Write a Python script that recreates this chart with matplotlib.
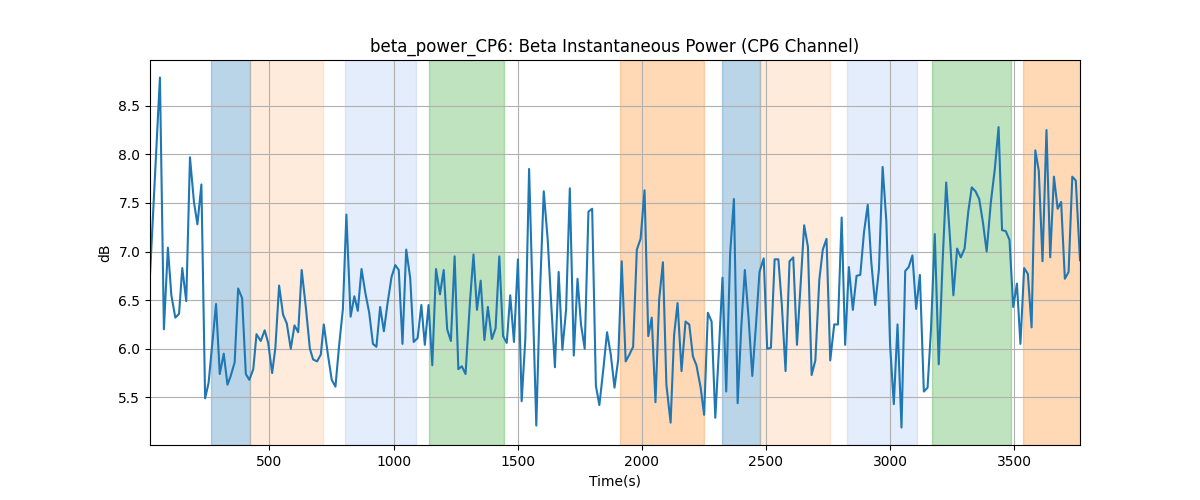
import matplotlib
matplotlib.use("Agg")
import matplotlib.pyplot as plt

time_s = [19, 59, 75, 91, 105, 121, 136, 149, 165, 180, 196, 210, 226, 241, 255, 285, 300, 316, 331, 344,
          360, 374, 390, 405, 419, 435, 448, 465, 481, 495, 511, 524, 539, 555, 570, 586, 601, 616, 630, 647,
          663, 676, 692, 707, 719, 735, 751, 766, 781, 796, 810, 827, 842, 856, 871, 886, 902, 917, 931, 946,
          961, 976, 992, 1007, 1021, 1036, 1051, 1067, 1081, 1097, 1112, 1126, 1141, 1156, 1171, 1187, 1202,
          1216, 1231, 1246, 1261, 1275, 1290, 1308, 1322, 1336, 1351, 1366, 1380, 1396, 1411, 1426, 1441, 1456,
          1470, 1485, 1501, 1516, 1531, 1546, 1560, 1575, 1590, 1605, 1621, 1636, 1650, 1665, 1680, 1695, 1710,
          1726, 1741, 1755, 1770, 1785, 1800, 1815, 1829, 1845, 1860, 1875, 1890, 1905, 1919, 1935, 1950, 1965,
          1980, 1995, 2011, 2026, 2040, 2055, 2070, 2085, 2099, 2116, 2130, 2144, 2160, 2176, 2191, 2206, 2220,
          2237, 2251, 2266, 2281, 2296, 2310, 2325, 2340, 2356, 2371, 2386, 2401, 2415, 2430, 2445, 2460, 2474,
          2491, 2505, 2520, 2535, 2550, 2564, 2579, 2595, 2610, 2625, 2639, 2654, 2669, 2684, 2699, 2715, 2729,
          2744, 2759, 2775, 2790, 2805, 2819, 2834, 2850, 2865, 2880, 2895, 2910, 2924, 2940, 2955, 2970, 2985,
          3000, 3015, 3030, 3046, 3061, 3075, 3090, 3105, 3120, 3136, 3151, 3165, 3180, 3196, 3211, 3226, 3241,
          3255, 3270, 3285, 3300, 3315, 3329, 3344, 3359, 3374, 3389, 3406, 3422, 3437, 3451, 3466, 3481, 3496,
          3511, 3525, 3540, 3555, 3570, 3585, 3599, 3614, 3630, 3645, 3660, 3675, 3689, 3704, 3719, 3734, 3748,
          3765]
power_db = [6.76, 8.79, 6.20, 7.04, 6.55, 6.32, 6.36, 6.83, 6.49, 7.97, 7.51, 7.28, 7.69, 5.49, 5.65, 6.46,
            5.74, 5.95, 5.63, 5.72, 5.86, 6.62, 6.52, 5.74, 5.68, 5.79, 6.15, 6.08, 6.19, 6.06, 5.75, 6.01,
            6.65, 6.35, 6.26, 6.00, 6.24, 6.17, 6.81, 6.42, 6.00, 5.89, 5.87, 5.94, 6.25, 5.95, 5.68, 5.61,
            6.04, 6.41, 7.38, 6.33, 6.54, 6.39, 6.82, 6.58, 6.37, 6.05, 6.02, 6.43, 6.18, 6.47, 6.74, 6.86,
            6.81, 6.05, 7.02, 6.73, 6.07, 6.11, 6.45, 6.04, 6.45, 5.83, 6.82, 6.56, 6.81, 6.20, 6.08, 6.95,
            5.79, 5.82, 5.74, 6.49, 6.97, 6.40, 6.70, 6.09, 6.43, 6.10, 6.21, 6.95, 6.13, 6.06, 6.55, 6.07,
            6.92, 5.46, 6.11, 7.85, 6.55, 5.21, 6.59, 7.62, 7.12, 6.42, 5.81, 6.79, 5.99, 6.40, 7.65, 5.93,
            6.72, 6.25, 6.00, 7.41, 7.44, 5.62, 5.42, 5.79, 6.17, 5.94, 5.60, 5.89, 6.90, 5.87, 5.94, 6.02,
            7.02, 7.13, 7.63, 6.13, 6.32, 5.45, 6.51, 6.89, 5.63, 5.24, 6.14, 6.47, 5.77, 6.28, 6.25, 5.92,
            5.83, 5.60, 5.32, 6.37, 6.28, 5.29, 5.96, 6.73, 5.56, 6.99, 7.54, 5.44, 6.24, 6.81, 6.32, 5.72,
            6.25, 6.79, 6.93, 6.00, 6.01, 6.92, 6.92, 6.45, 5.77, 6.90, 6.94, 6.04, 6.63, 7.27, 7.05, 5.73,
            5.88, 6.71, 7.02, 7.13, 5.88, 6.25, 6.25, 7.35, 6.04, 6.84, 6.40, 6.75, 6.76, 7.20, 7.48, 6.90,
            6.45, 6.81, 7.87, 7.31, 6.04, 5.43, 6.25, 5.19, 6.80, 6.84, 6.96, 6.41, 6.76, 5.56, 5.60, 6.21,
            7.18, 5.84, 6.86, 7.71, 7.15, 6.55, 7.03, 6.94, 7.03, 7.41, 7.66, 7.62, 7.54, 7.30, 7.00, 7.51,
            7.85, 8.28, 7.22, 7.21, 7.12, 6.43, 6.67, 6.05, 6.83, 6.77, 6.22, 8.04, 7.83, 6.90, 8.25, 6.94,
            7.77, 7.44, 7.51, 6.72, 6.79, 7.77, 7.73, 6.91]

# shaded intervals: (start, end, color, alpha)
span_start = [266, 421, 806, 1141, 1911, 2323, 2478, 2826, 3169, 3536]
span_end = [421, 714, 1089, 1446, 2249, 2478, 2758, 3108, 3486, 3800]
span_color = ["tab:blue", "tab:orange", "cornflowerblue", "tab:green", "tab:orange",
              "tab:blue", "tab:orange", "cornflowerblue", "tab:green", "tab:orange"]
span_alpha = [0.3, 0.15, 0.17, 0.3, 0.3, 0.3, 0.15, 0.17, 0.3, 0.3]

fig, ax = plt.subplots(figsize=(12, 5), dpi=100)
for s, e, c, a in zip(span_start, span_end, span_color, span_alpha):
    ax.axvspan(s, e, color=c, alpha=a)
ax.plot(time_s, power_db, color="tab:blue", linewidth=1.5)
ax.set_xlim(time_s[0], time_s[-1])
ax.grid(True)
ax.set_title("beta_power_CP6: Beta Instantaneous Power (CP6 Channel)")
ax.set_xlabel("Time(s)")
ax.set_ylabel("dB")
fig.savefig("out.png")
